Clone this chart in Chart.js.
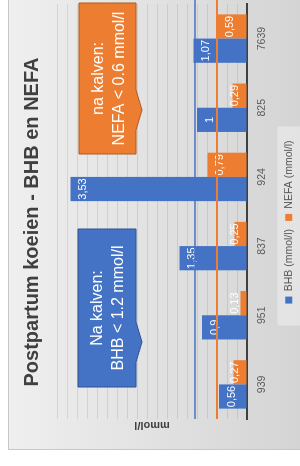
<!DOCTYPE html>
<html>
<head>
<meta charset="utf-8">
<script src="https://cdn.jsdelivr.net/npm/chart.js@4.4.1/dist/chart.umd.min.js"></script>
<style>
  html, body { margin: 0; padding: 0; background: #fff; overflow: hidden; }
  /* the chart is landscape, the page shows it turned a quarter left */
  #stage {
    position: absolute; left: 0; top: 0; width: 466px; height: 300px;
    transform-origin: 0 0; transform: translate(0, 466px) rotate(-90deg);
  }
  #bg {
    position: absolute; left: 16px; top: 8px; width: 450px; height: 292px;
    background: linear-gradient(to bottom, #efefef, #d4d4d4);
    box-shadow: inset 1px 1px 0 #c8c8c8;
  }
  canvas { position: absolute; left: 0; top: 0; }
</style>
</head>
<body>
<div id="stage">
  <div id="bg"></div>
  <canvas id="chart" width="466" height="300"></canvas>
</div>
<script>
const categories = ['939', '951', '837', '924', '825', '7639'];
const bhbValues = [0.56, 0.9, 1.35, 3.53, 1, 1.07];
const nefaValues = [0.27, 0.13, 0.25, 0.79, 0.29, 0.59];
const limitValues = [1.04, 0.6];
const calloutLines = [
  ['Na kalven:', 'BHB < 1.2 mmol/l'],
  ['na kalven:', 'NEFA < 0.6 mmol/l']
];

const BLUE = '#4472C4';
const ORANGE = '#ED7D31';
const FONT = '"Liberation Sans", Arial, sans-serif';

Chart.defaults.font.family = FONT;
Chart.defaults.color = '#595959';

// white value labels at the inner end of each bar
const barLabels = {
  id: 'barLabels',
  afterDatasetsDraw(chart) {
    const ctx = chart.ctx;
    ctx.save();
    ctx.fillStyle = '#fff';
    ctx.font = '11px ' + FONT;
    ctx.textAlign = 'center';
    ctx.textBaseline = 'top';
    chart.data.datasets.forEach((ds, i) => {
      chart.getDatasetMeta(i).data.forEach((bar, j) => {
        const y = Math.min(bar.y + 7, bar.base - 17);
        ctx.fillText(String(ds.data[j]).replace('.', ','), bar.x, y);
      });
    });

    // limit lines go over the bars
    const area = chart.chartArea;
    const yScale = chart.scales.y;
    [[BLUE, 1.5], [ORANGE, 2]].forEach(([color, w], i) => {
      const y = yScale.getPixelForValue(limitValues[i]);
      ctx.strokeStyle = color;
      ctx.lineWidth = w;
      ctx.beginPath();
      ctx.moveTo(area.left, y);
      ctx.lineTo(chart.width, y);
      ctx.stroke();
    });
    ctx.restore();
  }
};

// light panel behind the legend
const legendPanel = {
  id: 'legendPanel',
  beforeDraw(chart) {
    const boxes = chart.legend.legendHitBoxes;
    if (!boxes.length) return;
    const left = Math.min(...boxes.map(b => b.left)) - 22;
    const right = Math.max(...boxes.map(b => b.left + b.width)) + 14;
    const ctx = chart.ctx;
    ctx.save();
    ctx.fillStyle = 'rgba(255,255,255,0.35)';
    ctx.fillRect(left, chart.legend.top + 2, right - left, chart.height - chart.legend.top);
    ctx.restore();
  }
};

// the two callout boxes with a small pointer down to the limit lines
const callouts = {
  id: 'callouts',
  afterDraw(chart) {
    const ctx = chart.ctx;
    const boxes = [
      { l: 79, r: 237, t: 78, b: 136, px: 124, fill: BLUE, edge: '#2F528F' },
      { l: 312, r: 463, t: 79, b: 136, px: 356, fill: ORANGE, edge: '#AE5A21' }
    ];
    ctx.save();
    boxes.forEach((c, i) => {
      ctx.beginPath();
      ctx.moveTo(c.l, c.t);
      ctx.lineTo(c.r, c.t);
      ctx.lineTo(c.r, c.b);
      ctx.lineTo(c.px + 20, c.b);
      ctx.lineTo(c.px, c.b + 6);
      ctx.lineTo(c.px - 20, c.b);
      ctx.lineTo(c.l, c.b);
      ctx.closePath();
      ctx.fillStyle = c.fill;
      ctx.fill();
      ctx.strokeStyle = c.edge;
      ctx.lineWidth = 1;
      ctx.stroke();

      ctx.fillStyle = '#fff';
      ctx.font = '16px ' + FONT;
      ctx.textAlign = 'center';
      ctx.textBaseline = 'middle';
      const cx = (c.l + c.r) / 2;
      const cy = (c.t + c.b) / 2;
      ctx.fillText(calloutLines[i][0], cx, cy - 9);
      ctx.fillText(calloutLines[i][1], cx, cy + 12);
    });
    ctx.restore();
  }
};

new Chart(document.getElementById('chart'), {
  type: 'bar',
  data: {
    labels: categories,
    datasets: [
      { label: 'BHB (mmol/l)', data: bhbValues, backgroundColor: BLUE },
      { label: 'NEFA (mmol/l)', data: nefaValues, backgroundColor: ORANGE }
    ]
  },
  options: {
    responsive: false,
    animation: false,
    events: [],
    layout: { padding: { left: 26, right: 4, top: 8, bottom: -4 } },
    datasets: { bar: { categoryPercentage: 0.7, barPercentage: 1 } },
    plugins: {
      title: {
        display: true,
        text: 'Postpartum koeien - BHB en NEFA',
        color: '#404040',
        font: { size: 20, weight: 'bold' },
        padding: { top: 12, bottom: 13 }
      },
      legend: {
        position: 'bottom',
        labels: { boxWidth: 7, boxHeight: 7, padding: 8, font: { size: 10.5 }, color: '#595959' }
      },
      tooltip: { enabled: false }
    },
    scales: {
      x: {
        grid: { display: false, drawTicks: false },
        border: { color: '#404040', width: 2 },
        ticks: { padding: 9, font: { size: 10.5 }, color: '#595959' },
        afterFit(scale) { scale.height = 28.5; }
      },
      y: {
        min: 0,
        max: 3.8,
        grid: { color: 'rgba(0,0,0,0.09)', drawTicks: false },
        border: { display: false },
        ticks: { display: false, stepSize: 0.2 },
        title: {
          display: true, text: 'mmol/l', color: '#404040',
          font: { size: 11, weight: 'bold' }, padding: { top: 8, bottom: 0 }
        },
        afterFit(scale) { scale.width = 21; }
      }
    }
  },
  plugins: [legendPanel, barLabels, callouts]
});
</script>
</body>
</html>
